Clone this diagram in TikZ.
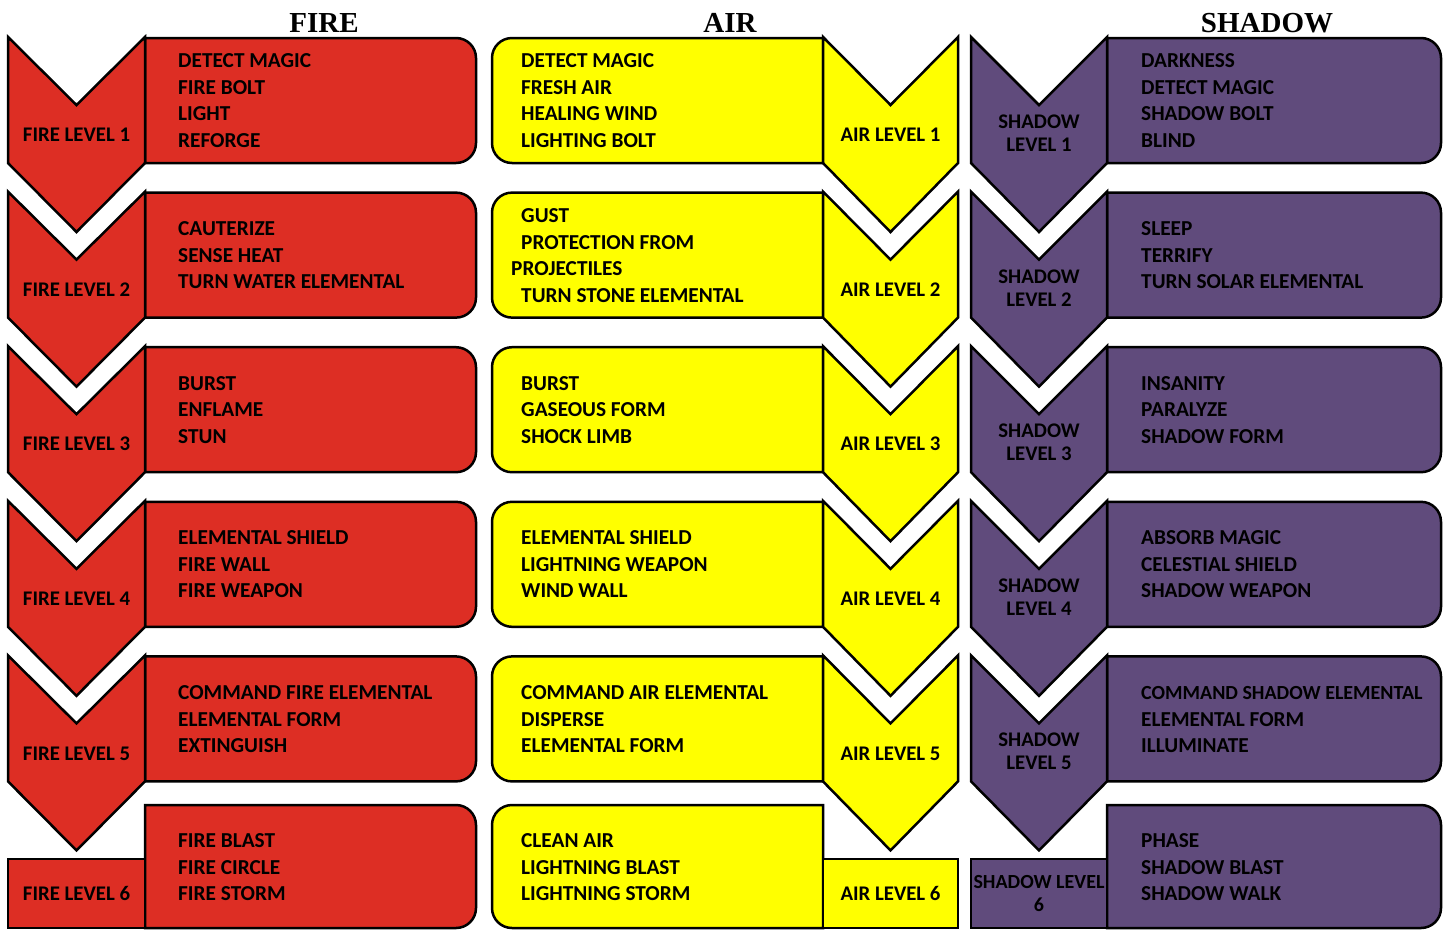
\documentclass[tikz,border=0pt]{standalone}
\usepackage{fontspec}
\setmainfont{Carlito}
\newfontfamily\titlefont{Liberation Serif}
\definecolor{firered}{RGB}{221,46,36}
\definecolor{airyellow}{RGB}{255,255,0}
\definecolor{shadowpurple}{RGB}{96,75,124}
% struts giving every text line the same box
\newcommand\spst{\vrule height 20.4pt depth 6.1pt width 0pt}
\newcommand\lvst{\vrule height 16pt depth 7pt width 0pt}
\tikzset{
  outline/.style={draw=black, line width=2.5pt, line join=miter},
  spelltext/.style={anchor=west, align=left, inner sep=0pt,
    font=\bfseries\fontsize{21.3}{26.5}\selectfont},
  leveltext/.style={anchor=base, inner sep=0pt,
    font=\bfseries\fontsize{20.8}{23}\selectfont},
  leveltwo/.style={anchor=center, align=center, inner sep=0pt,
    font=\bfseries\fontsize{20.8}{23}\selectfont},
  coltitle/.style={anchor=base, inner sep=0pt,
    font=\titlefont\bfseries\fontsize{29}{29}\selectfont},
}
\begin{document}
\begin{tikzpicture}[x=1pt,y=-1pt]
\useasboundingbox (0,0) rectangle (1455,930);
\fill[white] (0,0) rectangle (1455,930);

% column titles
\node[coltitle] (tfire) at (324,32) {FIRE};
\node[coltitle] (tair) at (730,32) {AIR};
\node[coltitle] (tshadow) at (1267,32) {SHADOW};

% levels 1-5: spell box plus downward chevron
\foreach \i [evaluate=\i as \n using int(\i+1)] in {0,...,4} {
  \pgfmathsetmacro\t{37+154.6*\i}
  % fire
  \path[outline, fill=firered] (145,\t+1) -- (456,\t+1)
    arc[start angle=90, end angle=0, radius=20pt] -- (476,\t+106)
    arc[start angle=0, end angle=-90, radius=20pt] -- (145,\t+126) -- cycle;
  \path[outline, fill=firered] (8,\t) -- (76.5,\t+68) -- (145,\t) -- (145,\t+126)
    -- (76.5,\t+195) -- (8,\t+126) -- cycle;
  \node[leveltext] (fire\n) at (76.5,\t+104.7) {FIRE LEVEL \n};
  % air
  \path[outline, fill=airyellow] (823,\t+1) -- (512,\t+1)
    arc[start angle=90, end angle=180, radius=20pt] -- (492,\t+106)
    arc[start angle=180, end angle=270, radius=20pt] -- (823,\t+126) -- cycle;
  \path[outline, fill=airyellow] (823,\t) -- (890.5,\t+68) -- (958,\t) -- (958,\t+126)
    -- (890.5,\t+195) -- (823,\t+126) -- cycle;
  \node[leveltext] (air\n) at (890.5,\t+104.7) {AIR LEVEL \n};
  % shadow
  \path[outline, fill=shadowpurple] (1107,\t+1) -- (1421,\t+1)
    arc[start angle=90, end angle=0, radius=20pt] -- (1441,\t+106)
    arc[start angle=0, end angle=-90, radius=20pt] -- (1107,\t+126) -- cycle;
  \path[outline, fill=shadowpurple] (971,\t) -- (1039,\t+68) -- (1107,\t) -- (1107,\t+126)
    -- (1039,\t+195) -- (971,\t+126) -- cycle;
  \node[leveltwo] (shadow\n) at (1039,\t+98.5) {\lvst SHADOW\\\lvst LEVEL \n};
}

% level 6: spell box plus plain tab
\path[outline, fill=firered] (145,805) -- (456,805)
  arc[start angle=90, end angle=0, radius=20pt] -- (476,908)
  arc[start angle=0, end angle=-90, radius=20pt] -- (145,928) -- cycle;
\path[outline, fill=firered] (8,859) rectangle (145,928);
\node[leveltext] (fire6) at (76.5,900.7) {FIRE LEVEL 6};
\path[outline, fill=airyellow] (823,805) -- (512,805)
  arc[start angle=90, end angle=180, radius=20pt] -- (492,908)
  arc[start angle=180, end angle=270, radius=20pt] -- (823,928) -- cycle;
\path[outline, fill=airyellow] (823,859) rectangle (958,928);
\node[leveltext] (air6) at (890.5,900.7) {AIR LEVEL 6};
\path[outline, fill=shadowpurple] (1107,805) -- (1421,805)
  arc[start angle=90, end angle=0, radius=20pt] -- (1441,908)
  arc[start angle=0, end angle=-90, radius=20pt] -- (1107,928) -- cycle;
\path[outline, fill=shadowpurple] (971,859) rectangle (1107,928);
\node[leveltwo, font=\bfseries\fontsize{20}{23}\selectfont] (shadow6) at (1039,895) {\lvst SHADOW LEVEL\\\lvst 6};

% fire spells
\node[spelltext] (fs1) at (178,100.5) {\spst DETECT MAGIC\\\spst FIRE BOLT\\\spst LIGHT\\\spst REFORGE};
\node[spelltext] (fs2) at (178,255.1) {\spst CAUTERIZE\\\spst SENSE HEAT\\\spst TURN WATER ELEMENTAL};
\node[spelltext] (fs3) at (178,409.7) {\spst BURST\\\spst ENFLAME\\\spst STUN};
\node[spelltext] (fs4) at (178,564.3) {\spst ELEMENTAL SHIELD\\\spst FIRE WALL\\\spst FIRE WEAPON};
\node[spelltext] (fs5) at (178,718.9) {\spst COMMAND FIRE ELEMENTAL\\\spst ELEMENTAL FORM\\\spst EXTINGUISH};
\node[spelltext] (fs6) at (178,867) {\spst FIRE BLAST\\\spst FIRE CIRCLE\\\spst FIRE STORM};

% air spells
\node[spelltext] (as1) at (521,100.5) {\spst DETECT MAGIC\\\spst FRESH AIR\\\spst HEALING WIND\\\spst LIGHTING BOLT};
\node[spelltext] (as2) at (521,255.1) {\spst GUST\\\spst PROTECTION FROM\\\spst\hspace*{-10pt}PROJECTILES\\\spst TURN STONE ELEMENTAL};
\node[spelltext] (as3) at (521,409.7) {\spst BURST\\\spst GASEOUS FORM\\\spst SHOCK LIMB};
\node[spelltext] (as4) at (521,564.3) {\spst ELEMENTAL SHIELD\\\spst LIGHTNING WEAPON\\\spst WIND WALL};
\node[spelltext] (as5) at (521,718.9) {\spst COMMAND AIR ELEMENTAL\\\spst DISPERSE\\\spst ELEMENTAL FORM};
\node[spelltext] (as6) at (521,867) {\spst CLEAN AIR\\\spst LIGHTNING BLAST\\\spst LIGHTNING STORM};

% shadow spells
\node[spelltext] (ss1) at (1141,100.5) {\spst DARKNESS\\\spst DETECT MAGIC\\\spst SHADOW BOLT\\\spst BLIND};
\node[spelltext] (ss2) at (1141,255.1) {\spst SLEEP\\\spst TERRIFY\\\spst TURN SOLAR ELEMENTAL};
\node[spelltext] (ss3) at (1141,409.7) {\spst INSANITY\\\spst PARALYZE\\\spst SHADOW FORM};
\node[spelltext] (ss4) at (1141,564.3) {\spst ABSORB MAGIC\\\spst CELESTIAL SHIELD\\\spst SHADOW WEAPON};
\node[spelltext] (ss5) at (1141,718.9) {\spst {\fontsize{20}{26.5}\selectfont COMMAND SHADOW ELEMENTAL}\\\spst ELEMENTAL FORM\\\spst ILLUMINATE};
\node[spelltext] (ss6) at (1141,867) {\spst PHASE\\\spst SHADOW BLAST\\\spst SHADOW WALK};
\end{tikzpicture}
\end{document}
